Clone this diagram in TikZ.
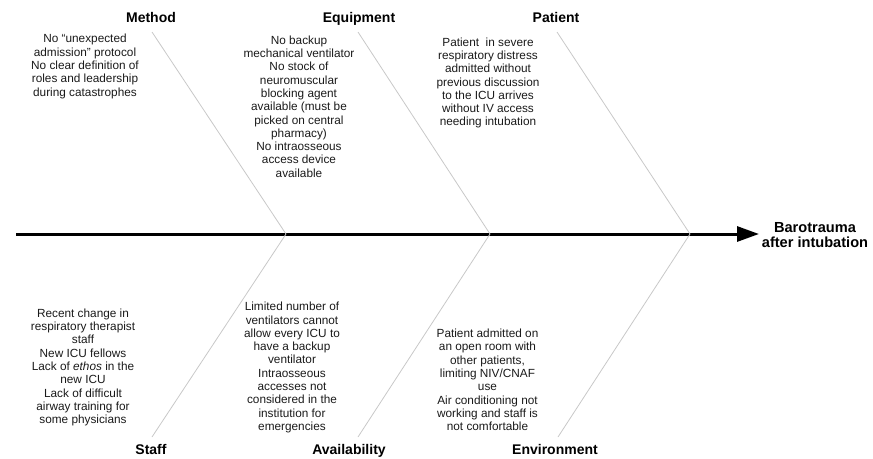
\documentclass[tikz,border=0pt]{standalone}
\usepackage{fontspec}
\setmainfont{Liberation Sans}
\usetikzlibrary{arrows.meta}
\definecolor{bonegray}{HTML}{C8C8C8}
\definecolor{txtc}{HTML}{1A1A1A}
\tikzset{
  cat/.style={font=\fontsize{14}{16}\selectfont\bfseries, text=black, inner sep=0pt, anchor=base},
  cause/.style={font=\fontsize{11.8}{13.3}\selectfont, text=txtc, align=center, inner sep=0pt},
  bone/.style={draw=bonegray, line width=0.8pt},
  spine/.style={draw=black, line width=3pt, -{Triangle[length=22pt,width=15pt]}},
}
\begin{document}
\begin{tikzpicture}[x=1pt,y=-1pt]
\useasboundingbox (0,0) rectangle (873,458);
% spine
\coordinate (tail) at (16,234);
\coordinate (head) at (759,234);
\node[inner sep=0pt, text=black, align=center, font=\fontsize{14.6}{15.5}\selectfont\bfseries] (effect) at (815,235) {Barotrauma\\after intubation};
\draw[spine] (tail) -- (head);
% joints
\coordinate (j1) at (286,234);
\coordinate (j2) at (490,234);
\coordinate (j3) at (690,234);
% bone ends
\coordinate (m1) at (152,32);
\coordinate (e1) at (358,32);
\coordinate (p1) at (557,32);
\coordinate (s1) at (152,437);
\coordinate (a1) at (358,437);
\coordinate (v1) at (558,437);
\draw[bone] (m1) -- (j1);
\draw[bone] (e1) -- (j2);
\draw[bone] (p1) -- (j3);
\draw[bone] (s1) -- (j1);
\draw[bone] (a1) -- (j2);
\draw[bone] (v1) -- (j3);
% category labels
\node[cat] (method) at (151,22) {Method};
\node[cat] (equip) at (359,22) {Equipment};
\node[cat] (patient) at (556,22) {Patient};
\node[cat] (staff) at (151,454) {Staff};
\node[cat] (avail) at (349,454) {Availability};
\node[cat] (env) at (555,454) {Environment};
% causes
\node[cause] (cm) at (85,66.5) {No “unexpected\\admission” protocol\\No clear definition of\\roles and leadership\\during catastrophes};
\node[cause] (ce) at (299,106.5) {No backup\\mechanical ventilator\\No stock of\\neuromuscular\\blocking agent\\available (must be\\picked on central\\pharmacy)\\No intraosseous\\access device\\available};
\node[cause] (cp) at (488,83) {Patient\ \ in severe\\respiratory distress\\admitted without\\previous discussion\\to the ICU arrives\\without IV access\\needing intubation};
\node[cause] (cs) at (83,367.5) {Recent change in\\respiratory therapist\\staff\\New ICU fellows\\Lack of \textit{ethos} in the\\new ICU\\Lack of difficult\\airway training for\\some physicians};
\node[cause] (ca) at (292,367.5) {Limited number of\\ventilators cannot\\allow every ICU to\\have a backup\\ventilator\\Intraosseous\\accesses not\\considered in the\\institution for\\emergencies};
\node[cause] (cv) at (487.5,380) {Patient admitted on\\an open room with\\other patients,\\limiting NIV/CNAF\\use\\Air conditioning not\\working and staff is\\not comfortable};
\end{tikzpicture}
\end{document}
